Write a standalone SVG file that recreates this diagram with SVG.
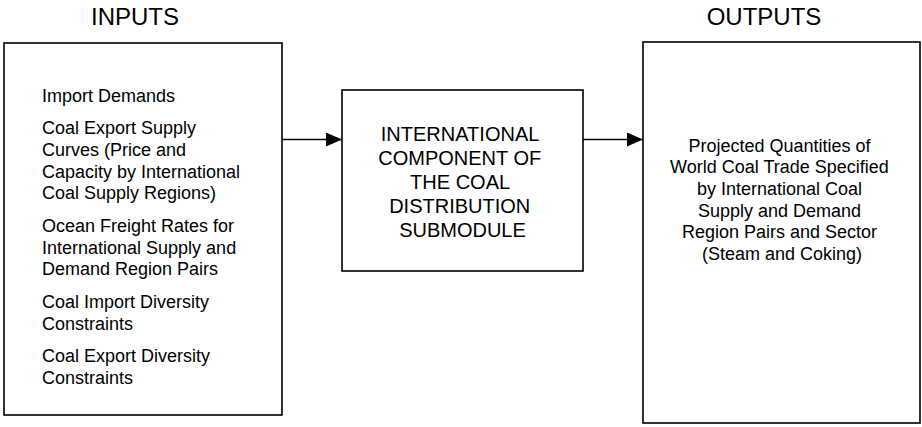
<svg xmlns="http://www.w3.org/2000/svg" width="922" height="427" viewBox="0 0 922 427">
<style>
.box{fill:#fff;stroke:#000;stroke-width:1.6}
.t{font-family:"Liberation Sans",Arial,sans-serif;fill:#000}
.h{font-size:24px;text-anchor:middle}
.b{font-size:18px}
.m{font-size:20px;text-anchor:middle}
.c{font-size:18px;text-anchor:middle}
.line{stroke:#000;stroke-width:1.6;fill:none}
</style>
<defs>
<marker id="arr" markerUnits="userSpaceOnUse" markerWidth="16" markerHeight="14" refX="16" refY="7" orient="auto">
<path d="M0,0 L16,7 L0,14 Z" fill="#000"/>
</marker>
</defs>
<rect width="922" height="427" fill="#fff"/>
<text class="t h" x="135" y="25">INPUTS</text>
<text class="t h" x="764" y="25">OUTPUTS</text>
<g id="inputs">
<rect class="box" x="4" y="43" width="278" height="372"/>
<text class="t b">
<tspan x="42" y="101.7">Import Demands</tspan>
<tspan x="42" y="134.3">Coal Export Supply</tspan>
<tspan x="42" y="156">Curves (Price and</tspan>
<tspan x="42" y="177.7">Capacity by International</tspan>
<tspan x="42" y="199.4">Coal Supply Regions)</tspan>
<tspan x="42" y="232">Ocean Freight Rates for</tspan>
<tspan x="42" y="253.7">International Supply and</tspan>
<tspan x="42" y="275.4">Demand Region Pairs</tspan>
<tspan x="42" y="308">Coal Import Diversity</tspan>
<tspan x="42" y="329.7">Constraints</tspan>
<tspan x="42" y="362.3">Coal Export Diversity</tspan>
<tspan x="42" y="384">Constraints</tspan>
</text>
</g>
<g id="component">
<rect class="box" x="342" y="90" width="241" height="181"/>
<text class="t m">
<tspan x="462.5" y="141">INTERNATIONAL</tspan>
<tspan x="462.5" y="165">COMPONENT OF</tspan>
<tspan x="462.5" y="189">THE COAL</tspan>
<tspan x="462.5" y="213">DISTRIBUTION</tspan>
<tspan x="462.5" y="237">SUBMODULE</tspan>
</text>
</g>
<g id="outputs">
<rect class="box" x="643" y="42" width="277" height="381"/>
<text class="t c">
<tspan x="782" y="151.7">Projected Quantities of</tspan>
<tspan x="782" y="173.3">World Coal Trade Specified</tspan>
<tspan x="782" y="195">by International Coal</tspan>
<tspan x="782" y="216.7">Supply and Demand</tspan>
<tspan x="782" y="238.3">Region Pairs and Sector</tspan>
<tspan x="782" y="260">(Steam and Coking)</tspan>
</text>
</g>
<g id="connectors">
<line class="line" x1="282" y1="139.5" x2="342" y2="139.5" marker-end="url(#arr)"/>
<line class="line" x1="583" y1="139.5" x2="643" y2="139.5" marker-end="url(#arr)"/>
</g>
</svg>
